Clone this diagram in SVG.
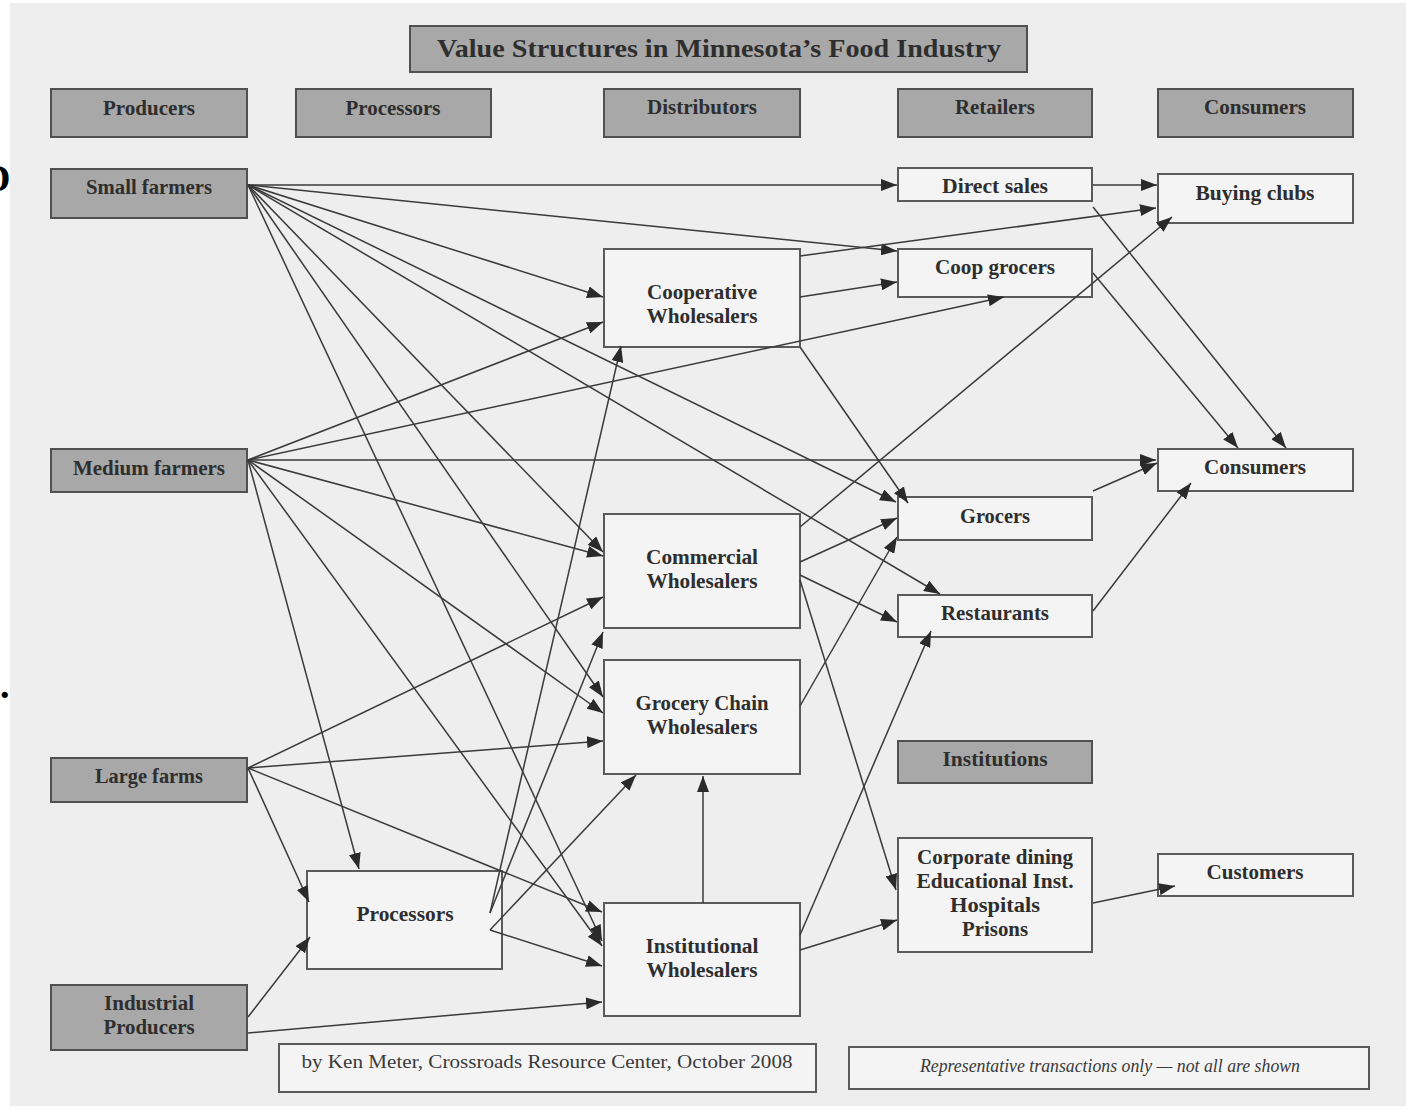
<svg xmlns="http://www.w3.org/2000/svg" width="1406" height="1110" viewBox="0 0 1406 1110">
  <style>
    .hdr { fill: #a8a8a8; stroke: #505050; stroke-width: 2; }
    .box { fill: #f4f4f4; stroke: #5a5a5a; stroke-width: 2; }
    .lbl { font-family: "Liberation Serif", "DejaVu Serif", serif; font-weight: bold; font-size: 20px; fill: #2e2e2e; text-anchor: middle; }
    .title { font-size: 25px; }
    .note { font-family: "Liberation Serif", "DejaVu Serif", serif; font-size: 19px; fill: #3a3a3a; text-anchor: middle; }
    .c { stroke: #3a3a3a; stroke-width: 1.5; fill: none; marker-end: url(#arrow); }
  </style>
  <defs>
    <marker id="arrow" markerUnits="userSpaceOnUse" markerWidth="17" markerHeight="12" refX="16" refY="6" orient="auto">
      <path d="M0,0 L16,6 L0,12 z" fill="#2a2a2a"/>
    </marker>
  </defs>

  <!-- paper -->
  <rect x="0" y="0" width="1406" height="1110" fill="#ffffff"/>
  <rect x="10" y="3" width="1396" height="1103" fill="#eeeeee"/>
  <!-- stray marks at the left margin -->
  <text x="-17" y="191" font-family="Liberation Serif, serif" font-weight="bold" font-size="38" fill="#000">D</text>
  <text x="0" y="698" font-family="Liberation Serif, serif" font-weight="bold" font-size="38" fill="#000">.</text>

  <!-- title -->
  <g id="title">
    <rect class="hdr" x="410" y="26" width="617" height="46"/>
    <text class="lbl title" x="719" y="57" textLength="564" lengthAdjust="spacingAndGlyphs">Value Structures in Minnesota’s Food Industry</text>
  </g>

  <!-- column headers -->
  <g id="h-producers"><rect class="hdr" x="51" y="89" width="196" height="48"/><text class="lbl" x="149" y="115" textLength="92" lengthAdjust="spacingAndGlyphs">Producers</text></g>
  <g id="h-processors"><rect class="hdr" x="296" y="89" width="195" height="48"/><text class="lbl" x="393" y="115" textLength="95" lengthAdjust="spacingAndGlyphs">Processors</text></g>
  <g id="h-distributors"><rect class="hdr" x="604" y="89" width="196" height="48"/><text class="lbl" x="702" y="114" textLength="110" lengthAdjust="spacingAndGlyphs">Distributors</text></g>
  <g id="h-retailers"><rect class="hdr" x="898" y="89" width="194" height="48"/><text class="lbl" x="995" y="114" textLength="80" lengthAdjust="spacingAndGlyphs">Retailers</text></g>
  <g id="h-consumers"><rect class="hdr" x="1158" y="89" width="195" height="48"/><text class="lbl" x="1255" y="114" textLength="102" lengthAdjust="spacingAndGlyphs">Consumers</text></g>

  <!-- producers -->
  <g id="small-farmers"><rect class="hdr" x="51" y="169" width="196" height="49"/><text class="lbl" x="149" y="194" textLength="126" lengthAdjust="spacingAndGlyphs">Small farmers</text></g>
  <g id="medium-farmers"><rect class="hdr" x="51" y="449" width="196" height="43"/><text class="lbl" x="149" y="475" textLength="152" lengthAdjust="spacingAndGlyphs">Medium farmers</text></g>
  <g id="large-farms"><rect class="hdr" x="51" y="758" width="196" height="44"/><text class="lbl" x="149" y="783" textLength="108" lengthAdjust="spacingAndGlyphs">Large farms</text></g>
  <g id="industrial-producers"><rect class="hdr" x="51" y="985" width="196" height="65"/>
    <text class="lbl" x="149" y="1010" textLength="90" lengthAdjust="spacingAndGlyphs">Industrial</text>
    <text class="lbl" x="149" y="1034" textLength="91" lengthAdjust="spacingAndGlyphs">Producers</text></g>

  <!-- processors -->
  <g id="processors"><rect class="box" x="307" y="871" width="195" height="98"/><text class="lbl" x="405" y="921" textLength="97" lengthAdjust="spacingAndGlyphs">Processors</text></g>

  <!-- distributors -->
  <g id="cooperative-wholesalers"><rect class="box" x="604" y="249" width="196" height="98"/>
    <text class="lbl" x="702" y="299" textLength="110" lengthAdjust="spacingAndGlyphs">Cooperative</text>
    <text class="lbl" x="702" y="323" textLength="111" lengthAdjust="spacingAndGlyphs">Wholesalers</text></g>
  <g id="commercial-wholesalers"><rect class="box" x="604" y="514" width="196" height="114"/>
    <text class="lbl" x="702" y="564" textLength="112" lengthAdjust="spacingAndGlyphs">Commercial</text>
    <text class="lbl" x="702" y="588" textLength="111" lengthAdjust="spacingAndGlyphs">Wholesalers</text></g>
  <g id="grocery-chain-wholesalers"><rect class="box" x="604" y="660" width="196" height="114"/>
    <text class="lbl" x="702" y="710" textLength="133" lengthAdjust="spacingAndGlyphs">Grocery Chain</text>
    <text class="lbl" x="702" y="734" textLength="111" lengthAdjust="spacingAndGlyphs">Wholesalers</text></g>
  <g id="institutional-wholesalers"><rect class="box" x="604" y="903" width="196" height="113"/>
    <text class="lbl" x="702" y="953" textLength="113" lengthAdjust="spacingAndGlyphs">Institutional</text>
    <text class="lbl" x="702" y="977" textLength="111" lengthAdjust="spacingAndGlyphs">Wholesalers</text></g>

  <!-- retailers -->
  <g id="direct-sales"><rect class="box" x="898" y="168" width="194" height="33"/><text class="lbl" x="995" y="193" textLength="106" lengthAdjust="spacingAndGlyphs">Direct sales</text></g>
  <g id="coop-grocers"><rect class="box" x="898" y="249" width="194" height="48"/><text class="lbl" x="995" y="274" textLength="120" lengthAdjust="spacingAndGlyphs">Coop grocers</text></g>
  <g id="grocers"><rect class="box" x="898" y="497" width="194" height="43"/><text class="lbl" x="995" y="523" textLength="70" lengthAdjust="spacingAndGlyphs">Grocers</text></g>
  <g id="restaurants"><rect class="box" x="898" y="595" width="194" height="42"/><text class="lbl" x="995" y="620" textLength="108" lengthAdjust="spacingAndGlyphs">Restaurants</text></g>
  <g id="institutions"><rect class="hdr" x="898" y="741" width="194" height="42"/><text class="lbl" x="995" y="766" textLength="105" lengthAdjust="spacingAndGlyphs">Institutions</text></g>
  <g id="institutional-buyers"><rect class="box" x="898" y="838" width="194" height="114"/>
    <text class="lbl" x="995" y="864" textLength="156" lengthAdjust="spacingAndGlyphs">Corporate dining</text>
    <text class="lbl" x="995" y="888" textLength="157" lengthAdjust="spacingAndGlyphs">Educational Inst.</text>
    <text class="lbl" x="995" y="912" textLength="90" lengthAdjust="spacingAndGlyphs">Hospitals</text>
    <text class="lbl" x="995" y="936" textLength="66" lengthAdjust="spacingAndGlyphs">Prisons</text></g>

  <!-- consumers -->
  <g id="buying-clubs"><rect class="box" x="1158" y="174" width="195" height="49"/><text class="lbl" x="1255" y="200" textLength="119" lengthAdjust="spacingAndGlyphs">Buying clubs</text></g>
  <g id="consumers"><rect class="box" x="1158" y="449" width="195" height="42"/><text class="lbl" x="1255" y="474" textLength="102" lengthAdjust="spacingAndGlyphs">Consumers</text></g>
  <g id="customers"><rect class="box" x="1158" y="854" width="195" height="42"/><text class="lbl" x="1255" y="879" textLength="97" lengthAdjust="spacingAndGlyphs">Customers</text></g>

  <!-- footer notes -->
  <g id="credit"><rect class="box" x="279" y="1044" width="537" height="48"/>
    <text class="note" x="547" y="1068" textLength="491" lengthAdjust="spacingAndGlyphs">by Ken Meter, Crossroads Resource Center, October 2008</text></g>
  <g id="caveat"><rect class="box" x="849" y="1047" width="520" height="42"/>
    <text class="note" x="1110" y="1072" font-style="italic" font-size="17" textLength="380" lengthAdjust="spacingAndGlyphs">Representative transactions only — not all are shown</text></g>

  <!-- flows -->
  <g id="connectors">
    <!-- small farmers -->
    <line class="c" x1="248" y1="185" x2="897" y2="185"/>
    <line class="c" x1="248" y1="185" x2="897" y2="251"/>
    <line class="c" x1="248" y1="185" x2="603" y2="297"/>
    <line class="c" x1="248" y1="185" x2="896" y2="502"/>
    <line class="c" x1="248" y1="185" x2="940" y2="594"/>
    <line class="c" x1="248" y1="185" x2="603" y2="552"/>
    <line class="c" x1="248" y1="185" x2="603" y2="697"/>
    <line class="c" x1="248" y1="185" x2="602" y2="941"/>
    <!-- medium farmers -->
    <line class="c" x1="248" y1="460" x2="1156" y2="460"/>
    <line class="c" x1="248" y1="460" x2="603" y2="322"/>
    <line class="c" x1="248" y1="460" x2="1004" y2="297"/>
    <line class="c" x1="248" y1="460" x2="603" y2="556"/>
    <line class="c" x1="248" y1="460" x2="603" y2="713"/>
    <line class="c" x1="248" y1="460" x2="602" y2="946"/>
    <line class="c" x1="248" y1="460" x2="359" y2="869"/>
    <!-- large farms -->
    <line class="c" x1="248" y1="768" x2="603" y2="597"/>
    <line class="c" x1="248" y1="768" x2="603" y2="741"/>
    <line class="c" x1="248" y1="768" x2="309" y2="902"/>
    <line class="c" x1="248" y1="768" x2="602" y2="912"/>
    <!-- industrial producers -->
    <line class="c" x1="248" y1="1017" x2="310" y2="937"/>
    <line class="c" x1="248" y1="1033" x2="602" y2="1002"/>
    <!-- processors -->
    <line class="c" x1="490" y1="913" x2="621" y2="346"/>
    <line class="c" x1="490" y1="913" x2="603" y2="632"/>
    <line class="c" x1="490" y1="930" x2="636" y2="775"/>
    <line class="c" x1="490" y1="930" x2="602" y2="966"/>
    <!-- cooperative wholesalers -->
    <line class="c" x1="800" y1="256" x2="1156" y2="208"/>
    <line class="c" x1="800" y1="297" x2="897" y2="282"/>
    <line class="c" x1="800" y1="347" x2="908" y2="503"/>
    <!-- commercial wholesalers -->
    <line class="c" x1="800" y1="527" x2="1172" y2="217"/>
    <line class="c" x1="800" y1="562" x2="897" y2="518"/>
    <line class="c" x1="800" y1="575" x2="897" y2="622"/>
    <line class="c" x1="800" y1="580" x2="896" y2="890"/>
    <!-- grocery chain wholesalers -->
    <line class="c" x1="800" y1="706" x2="897" y2="537"/>
    <!-- institutional wholesalers -->
    <line class="c" x1="703" y1="903" x2="703" y2="776"/>
    <line class="c" x1="800" y1="935" x2="931" y2="631"/>
    <line class="c" x1="800" y1="950" x2="897" y2="920"/>
    <!-- retailers to consumers -->
    <line class="c" x1="1093" y1="185" x2="1157" y2="185"/>
    <line class="c" x1="1093" y1="207" x2="1286" y2="448"/>
    <line class="c" x1="1093" y1="273" x2="1238" y2="448"/>
    <line class="c" x1="1093" y1="491" x2="1157" y2="463"/>
    <line class="c" x1="1093" y1="611" x2="1191" y2="483"/>
    <line class="c" x1="1093" y1="903" x2="1175" y2="886"/>
  </g>
</svg>
